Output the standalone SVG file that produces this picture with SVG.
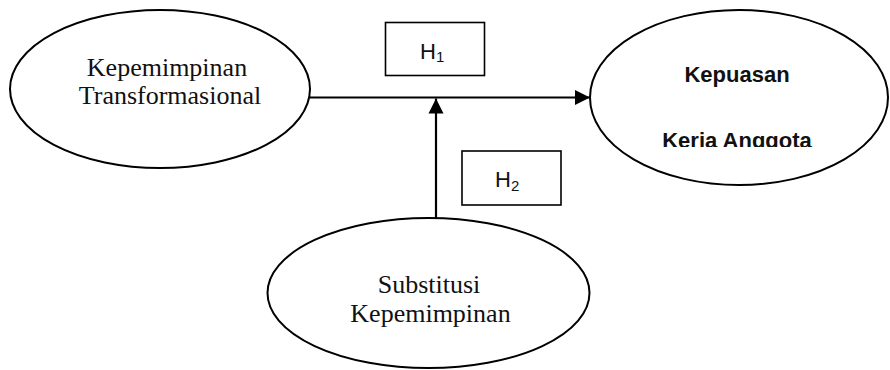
<svg xmlns="http://www.w3.org/2000/svg" width="890" height="370" viewBox="0 0 890 370">
  <style>
    .node { fill: #ffffff; stroke: #000000; stroke-width: 2; }
    .box { fill: #ffffff; stroke: #000000; stroke-width: 1.6; }
    .serif { font-family: "Liberation Serif", "Times New Roman", serif; font-size: 26px; fill: #111111; text-anchor: middle; }
    .bold { font-family: "Liberation Sans", Arial, sans-serif; font-size: 22px; font-weight: bold; fill: #111111; text-anchor: middle; }
    .hyp { font-family: "Liberation Sans", Arial, sans-serif; font-size: 22px; fill: #111111; }
    .sub { font-size: 15px; }
    .edge { fill: none; stroke: #000000; stroke-width: 2.2; }
  </style>
  <defs>
    <marker id="arrow" markerUnits="userSpaceOnUse" markerWidth="16" markerHeight="16" viewBox="0 0 16 16" refX="15" refY="8" orient="auto">
      <path d="M0,0.5 L15,8 L0,15.5 Z" fill="#000000"/>
    </marker>
    <clipPath id="clip-kepuasan">
      <rect x="590" y="10" width="300" height="137"/>
    </clipPath>
  </defs>

  <rect width="890" height="370" fill="#ffffff"/>

  <!-- connectors -->
  <g id="connectors">
    <line class="edge" x1="310" y1="97.5" x2="590" y2="97.5" marker-end="url(#arrow)"/>
    <line class="edge" x1="436" y1="218" x2="436" y2="98.5" marker-end="url(#arrow)"/>
  </g>

  <!-- Kepemimpinan Transformasional -->
  <g id="node-transformasional">
    <ellipse class="node" cx="160" cy="89" rx="150" ry="79"/>
    <text class="serif" x="167" y="75.5">Kepemimpinan</text>
    <text class="serif" x="170" y="104">Transformasional</text>
  </g>

  <!-- Kepuasan Keria Anggota -->
  <g id="node-kepuasan">
    <ellipse class="node" cx="739" cy="97.5" rx="149" ry="87.5"/>
    <text class="bold" x="737" y="82">Kepuasan</text>
    <text class="bold" x="737" y="147.5" clip-path="url(#clip-kepuasan)">Keria Anggota</text>
  </g>

  <!-- Substitusi Kepemimpinan -->
  <g id="node-substitusi">
    <ellipse class="node" cx="428.5" cy="293" rx="161" ry="75"/>
    <text class="serif" x="429" y="292.5">Substitusi</text>
    <text class="serif" x="430.5" y="321.5">Kepemimpinan</text>
  </g>

  <!-- hypothesis labels -->
  <g id="label-h1">
    <rect class="box" x="385.5" y="22.5" width="99" height="53"/>
    <text class="hyp" x="420" y="58.5">H<tspan class="sub" dy="3.5">1</tspan></text>
  </g>
  <g id="label-h2">
    <rect class="box" x="462" y="151" width="99" height="54"/>
    <text class="hyp" x="495" y="187">H<tspan class="sub" dy="3.5">2</tspan></text>
  </g>
</svg>
